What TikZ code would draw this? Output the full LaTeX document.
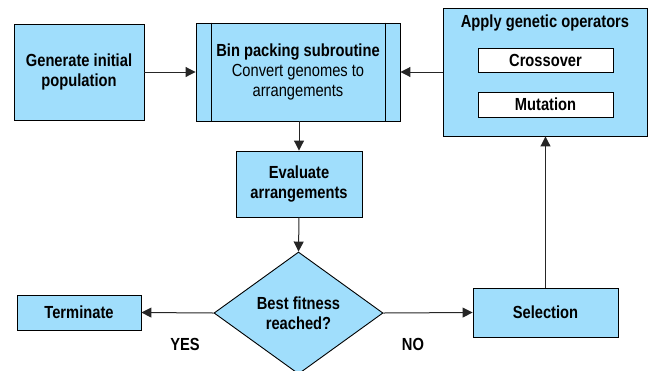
\documentclass[tikz,border=0pt]{standalone}
\usepackage{fontspec}
\setmainfont[FakeStretch=0.84,BoldFeatures={FakeStretch=0.84}]{Liberation Sans}
\usetikzlibrary{arrows.meta,shapes.geometric}
\definecolor{boxblue}{RGB}{160,222,252}
\begin{document}
\begin{tikzpicture}[x=1pt,y=-1pt,
  every node/.style={font=\fontsize{17.5}{20}\selectfont\bfseries, align=center},
  box/.style={draw=black, line width=0.9pt, fill=boxblue, inner sep=0pt},
  wbox/.style={draw=black, line width=0.9pt, fill=white, inner sep=0pt},
  conn/.style={draw=black!85, line width=1pt, -{Triangle[length=10pt,width=10pt]}},
  lbl/.style={font=\fontsize{17.5}{20}\selectfont\bfseries}
]
\useasboundingbox (0,0) rectangle (652,370);
\clip (0,0) rectangle (652,370);

\node[box, minimum width=130pt, minimum height=96pt] (gen) at (79,72) {Generate initial\\population};
\node[box, minimum width=204pt, minimum height=98pt] (bin) at (298,72) {Bin packing subroutine\\{\mdseries Convert genomes to}\\{\mdseries arrangements}};
\draw[line width=0.9pt] ([xshift=16pt]bin.north west) -- ([xshift=16pt]bin.south west);
\draw[line width=0.9pt] ([xshift=-15pt]bin.north east) -- ([xshift=-15pt]bin.south east);

\node[box, minimum width=204pt, minimum height=128pt] (apply) at (545,72) {};
\node (applyt) at (545,23) {Apply genetic operators};
\node[wbox, minimum width=135pt, minimum height=24pt] (cross) at (545.5,60) {Crossover};
\node[wbox, minimum width=135pt, minimum height=25pt] (mut) at (545.5,104.5) {Mutation};

\node[box, minimum width=126pt, minimum height=66pt] (eval) at (299,184) {Evaluate\\arrangements};
\node[box, diamond, minimum width=169pt, minimum height=122pt] (dec) at (298.5,313) {Best fitness\\reached?};
\node[box, minimum width=124pt, minimum height=35pt] (term) at (79,312.5) {Terminate};
\node[box, minimum width=145pt, minimum height=49pt] (sel) at (545.5,312.5) {Selection};

\node[lbl] (yes) at (185,344) {YES};
\node[lbl] (no) at (413,344) {NO};

\draw[conn] (gen.east) -- (bin.west);
\draw[conn] (apply.west) -- (bin.east);
\draw[conn] (bin.south -| eval.north) -- (eval.north);
\draw[conn] (eval.south) -- (dec.north);
\draw[conn] (dec.west) -- (term.east);
\draw[conn] (dec.east) -- (sel.west);
\draw[conn] (sel.north) -- (apply.south -| sel.north);
\end{tikzpicture}
\end{document}
